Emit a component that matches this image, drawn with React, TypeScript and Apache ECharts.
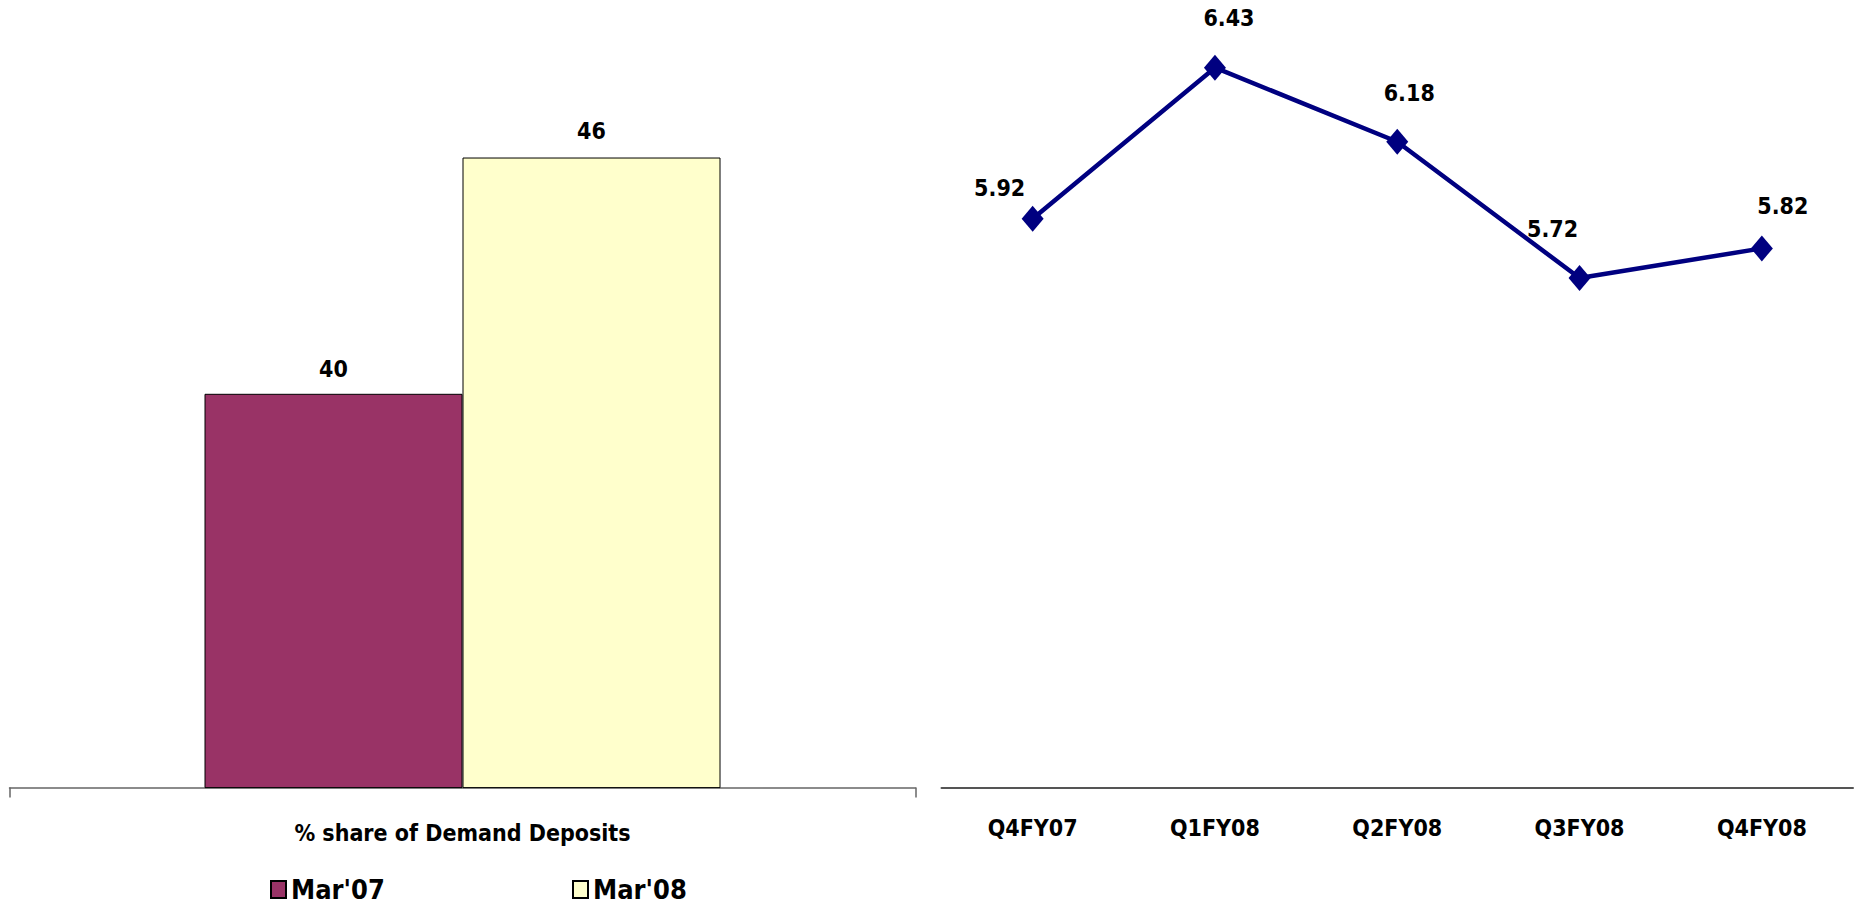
import React, { useEffect, useRef } from "react";
import * as echarts from "echarts";

// Left panel: share of demand deposits
const shareCategories = ["% share of Demand Deposits"];
const shareSeriesNames = ["Mar'07", "Mar'08"];
const shareMar07 = [40];
const shareMar08 = [46];

// Right panel: quarterly trend
const quarters = ["Q4FY07", "Q1FY08", "Q2FY08", "Q3FY08", "Q4FY08"];
const quarterValues = [5.92, 6.43, 6.18, 5.72, 5.82];
// hand-placed label offsets for each point
const quarterLabelOffsets: [number, number][] = [
  [-33, 6],
  [14, -13],
  [12, -12],
  [-27, -13],
  [21, -6],
];

const FONT = "'Liberation Sans Narrow', 'DejaVu Sans Condensed', Arial, sans-serif";

export default function App() {
  const ref = useRef<HTMLDivElement>(null);

  useEffect(() => {
    if (!ref.current) return;
    const chart = echarts.init(ref.current, undefined, { renderer: "svg" });

    const labelStyle = {
      fontFamily: FONT,
      fontWeight: "bold" as const,
      fontSize: 23,
      color: "#000",
    };

    const legendBase = {
      top: 876,
      padding: 0,
      itemWidth: 15,
      itemHeight: 17,
      icon: "rect",
      textStyle: { fontFamily: FONT, fontWeight: "bold", fontSize: 27, color: "#000" },
    };

    chart.setOption({
      animation: false,
      backgroundColor: "#fff",
      legend: [
        { ...legendBase, data: [shareSeriesNames[0]], left: 270 },
        { ...legendBase, data: [shareSeriesNames[1]], left: 572 },
      ],
      grid: [
        { left: 9.5, width: 906, top: -4.7, height: 792.3 },
        { left: 941.5, width: 911.5, top: 17.3, height: 770.3 },
      ],
      xAxis: [
        {
          gridIndex: 0,
          type: "category",
          data: shareCategories,
          axisLine: { lineStyle: { color: "#666", width: 1.5 } },
          axisTick: { show: true, length: 10, lineStyle: { color: "#666", width: 1.5 } },
          axisLabel: { ...labelStyle, margin: 34 },
        },
        {
          gridIndex: 1,
          type: "category",
          data: quarters,
          axisLine: { lineStyle: { color: "#555", width: 2 } },
          axisTick: { show: false },
          axisLabel: { ...labelStyle, margin: 29 },
        },
      ],
      yAxis: [
        { gridIndex: 0, type: "value", min: 30, max: 50, show: false, splitLine: { show: false } },
        { gridIndex: 1, type: "value", min: 4, max: 6.6, show: false, splitLine: { show: false } },
      ],
      series: [
        {
          name: shareSeriesNames[0],
          type: "bar",
          xAxisIndex: 0,
          yAxisIndex: 0,
          data: shareMar07,
          barWidth: 258,
          barGap: "0%",
          itemStyle: { color: "#993366", borderColor: "#000", borderWidth: 1 },
          label: { show: true, position: "top", distance: 13, ...labelStyle },
        },
        {
          name: shareSeriesNames[1],
          type: "bar",
          xAxisIndex: 0,
          yAxisIndex: 0,
          data: shareMar08,
          barWidth: 258,
          barGap: "0%",
          itemStyle: { color: "#FFFFCC", borderColor: "#000", borderWidth: 1 },
          label: { show: true, position: "top", distance: 15, ...labelStyle },
        },
        {
          name: "trend",
          type: "line",
          xAxisIndex: 1,
          yAxisIndex: 1,
          data: quarterValues.map((v, i) => ({
            value: v,
            label: { offset: quarterLabelOffsets[i] },
          })),
          symbol: "diamond",
          symbolSize: [22, 26],
          lineStyle: { color: "#000080", width: 4.5 },
          itemStyle: { color: "#000080" },
          label: { show: true, position: "top", distance: 12, ...labelStyle, formatter: (p: any) => p.value.toFixed(2) },
        },
      ],
    });

    return () => chart.dispose();
  }, []);

  return (
    <div
      ref={ref}
      style={{ position: "absolute", left: 0, top: 0, width: 1857, height: 916 }}
    />
  );
}
